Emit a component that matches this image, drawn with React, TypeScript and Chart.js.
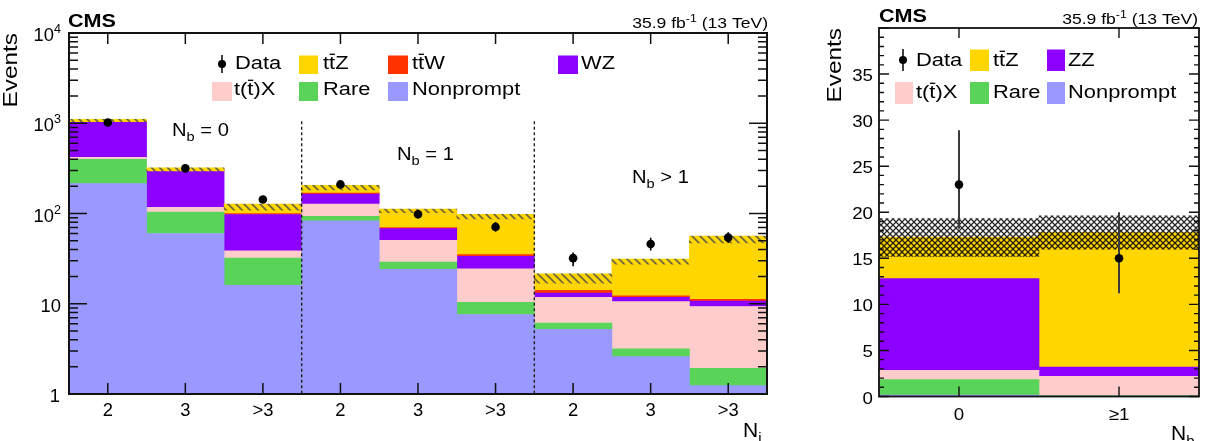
import React, { useEffect, useRef } from 'react';
import { Chart, registerables } from 'chart.js';
Chart.register(...registerables);

// ---------------- Left panel: N_j bins in three N_b regions ----------------
const leftCategories = ['2', '3', '>3', '2', '3', '>3', '2', '3', '>3'];
const leftRegions = ['= 0', '= 1', '> 1'];
const leftNonprompt = [215, 60, 16, 83, 24, 7.6, 5.2, 2.6, 1.24];
const leftRare = [183, 44, 16, 10, 5, 2.8, 0.9, 0.56, 0.68];
const leftTX = [21, 13, 6.5, 34, 21.5, 14, 5.7, 7.4, 7.4];
const leftWZ = [623, 180, 59, 37, 17.5, 9.2, 1.3, 1.2, 1.4];
const leftTTW = [8, 3, 2, 4, 2, 1.5, 1.0, 0.5, 0.5];
const leftTTZ = [24, 9, 16.5, 25, 37, 57.4, 5.1, 17, 40.3];
const leftBandLo = [1042, 297, 109, 182, 102, 87, 16.9, 27.4, 47.1];
const leftBandHi = [1107, 321, 127, 205, 112, 98, 21.5, 31.3, 56.1];
const leftData = [1020, 316, 143, 210, 98, 71, 32, 46, 54];
const leftDataLo = [988, 298, 131, 196, 88, 63, 26, 39, 47];
const leftDataHi = [1052, 334, 156, 225, 109, 80, 37, 54, 62];
const leftYTickExp = [0, 1, 2, 3, 4];

// ---------------- Right panel: N_b bins ----------------
const rightCategories = ['0', '\u22651'];
const rightNonprompt = [0.15, 0.05];
const rightRare = [1.7, 0.05];
const rightTX = [1.0, 2.1];
const rightZZ = [9.95, 1.0];
const rightTTZ = [4.5, 14.6];
const rightBandLo = [15.2, 16.0];
const rightBandHi = [19.3, 19.6];
const rightData = [23, 15];
const rightDataLo = [18.2, 11.2];
const rightDataHi = [28.9, 20.0];
const rightYTicks = [0, 5, 10, 15, 20, 25, 30, 35];

const COL = {
  nonprompt: '#9999ff',
  rare: '#59d459',
  tx: '#ffcccc',
  wz: '#8c00ff',
  ttw: '#ff3300',
  ttz: '#ffd600',
};

const FONT = '"Liberation Sans", Arial, Helvetica, sans-serif';
type Seg = { t: string; size: number; dy?: number; bar?: boolean; bold?: boolean };

function fontOf(s: Seg) {
  return `${s.bold ? 'bold ' : ''}${s.size}px ${FONT}`;
}

function rich(ctx: CanvasRenderingContext2D, segs: Seg[], x: number, y: number, sx = 1.2, align = 'left', color = '#000') {
  ctx.save();
  const ws = segs.map((s) => {
    ctx.font = fontOf(s);
    return ctx.measureText(s.t).width * sx;
  });
  const total = ws.reduce((a, b) => a + b, 0);
  let cx = align === 'right' ? x - total : align === 'center' ? x - total / 2 : x;
  segs.forEach((s, i) => {
    const by = y + (s.dy || 0);
    ctx.save();
    ctx.font = fontOf(s);
    ctx.fillStyle = color;
    ctx.textAlign = 'left';
    ctx.textBaseline = 'alphabetic';
    ctx.translate(cx, by);
    ctx.scale(sx, 1);
    ctx.fillText(s.t, 0, 0);
    ctx.restore();
    if (s.bar) {
      ctx.strokeStyle = color;
      ctx.lineWidth = 1.3;
      ctx.beginPath();
      ctx.moveTo(cx + 0.6, by - s.size * 0.84);
      ctx.lineTo(cx + ws[i] - 0.2, by - s.size * 0.84);
      ctx.stroke();
    }
    cx += ws[i];
  });
  ctx.restore();
}

function rotText(ctx: CanvasRenderingContext2D, t: string, x: number, y: number, size: number, sx: number) {
  ctx.save();
  ctx.translate(x, y);
  ctx.rotate(-Math.PI / 2);
  ctx.scale(sx, 1);
  ctx.font = `${size}px ${FONT}`;
  ctx.fillStyle = '#000';
  ctx.textAlign = 'right';
  ctx.textBaseline = 'alphabetic';
  ctx.fillText(t, 0, 0);
  ctx.restore();
}

const LS = 17.5; // legend font size
const LSX = 1.25;
const TTZ: Seg[] = [{ t: 't', size: LS }, { t: 't', size: LS, bar: true }, { t: 'Z', size: LS }];
const TTW: Seg[] = [{ t: 't', size: LS }, { t: 't', size: LS, bar: true }, { t: 'W', size: LS }];
const TX: Seg[] = [{ t: 't(', size: LS }, { t: 't', size: LS, bar: true }, { t: ')X', size: LS }];
const lbl = (t: string): Seg[] => [{ t, size: LS }];

type LegItem = { kind: 'data' | 'box'; color?: string; x: number; x2?: number; y1: number; y2: number; tx: number; base: number; label: Seg[] };

function drawLegend(ctx: CanvasRenderingContext2D, items: LegItem[]) {
  items.forEach((it) => {
    if (it.kind === 'data') {
      const cy = (it.y1 + it.y2) / 2;
      ctx.save();
      ctx.strokeStyle = '#000';
      ctx.lineWidth = 1.5;
      ctx.beginPath();
      ctx.moveTo(it.x, it.y1);
      ctx.lineTo(it.x, it.y2);
      ctx.stroke();
      ctx.fillStyle = '#000';
      ctx.beginPath();
      ctx.arc(it.x, cy, 4, 0, Math.PI * 2);
      ctx.fill();
      ctx.restore();
    } else {
      ctx.fillStyle = it.color!;
      ctx.fillRect(it.x, it.y1, (it.x2 as number) - it.x, it.y2 - it.y1);
    }
    rich(ctx, it.label, it.tx, it.base, LSX);
  });
}

// stacked histogram as floating bars; the lowest component starts at the axis floor
function buildStack(components: number[][], floor: number) {
  const n = components[0].length;
  const cum = new Array(n).fill(0);
  return components.map((comp, k) =>
    comp.map((v, i) => {
      const s = k === 0 ? floor : cum[i];
      cum[i] += v;
      return [s, cum[i]];
    })
  );
}

function drawErrors(chart: any, idx: number, lo: number[], hi: number[], color: string, width: number) {
  const ctx = chart.ctx;
  const y = chart.scales.y;
  const meta = chart.getDatasetMeta(idx);
  ctx.save();
  ctx.strokeStyle = color;
  ctx.lineWidth = width;
  ctx.beginPath();
  meta.data.forEach((pt: any, i: number) => {
    ctx.moveTo(pt.x, y.getPixelForValue(hi[i]));
    ctx.lineTo(pt.x, y.getPixelForValue(lo[i]));
  });
  ctx.stroke();
  ctx.restore();
}

function hatchPattern() {
  const c = document.createElement('canvas');
  c.width = 8;
  c.height = 8;
  const g = c.getContext('2d')!;
  g.fillStyle = COL.ttz;
  g.fillRect(0, 0, 8, 8);
  g.strokeStyle = '#6b6440';
  g.lineWidth = 1.6;
  g.beginPath();
  g.moveTo(-1, -1);
  g.lineTo(9, 9);
  g.moveTo(7, -1);
  g.lineTo(9, 1);
  g.moveTo(-1, 7);
  g.lineTo(1, 9);
  g.stroke();
  return g.createPattern(c, 'repeat')!;
}

function crossPattern() {
  const c = document.createElement('canvas');
  c.width = 6;
  c.height = 6;
  const g = c.getContext('2d')!;
  g.strokeStyle = 'rgba(0,0,0,0.85)';
  g.lineWidth = 1.3;
  g.beginPath();
  g.moveTo(-1, -1);
  g.lineTo(7, 7);
  g.moveTo(7, -1);
  g.lineTo(-1, 7);
  g.stroke();
  return g.createPattern(c, 'repeat')!;
}

function barSet(label: string, data: any, color: any, order: number) {
  return {
    type: 'bar' as const,
    label,
    data,
    backgroundColor: color,
    borderWidth: 0,
    grouped: false,
    barPercentage: 1,
    categoryPercentage: 1,
    order,
  };
}

function pointSet(data: number[]) {
  return {
    type: 'line' as const,
    label: 'Data',
    data,
    showLine: false,
    pointRadius: 4.3,
    pointBackgroundColor: '#000',
    pointBorderColor: '#000',
    pointBorderWidth: 0,
    borderColor: '#000',
    order: 0,
  };
}

function leftConfig(): any {
  const stacks = buildStack([leftNonprompt, leftRare, leftTX, leftWZ, leftTTW, leftTTZ], 1);
  const names = ['Nonprompt', 'Rare', 't(t)X', 'WZ', 'ttW', 'ttZ'];
  const cols = [COL.nonprompt, COL.rare, COL.tx, COL.wz, COL.ttw, COL.ttz];
  const datasets: any[] = [
    pointSet(leftData),
    barSet('Uncertainty', leftBandLo.map((l, i) => [l, leftBandHi[i]]), hatchPattern(), 1),
    ...stacks.map((s, k) => barSet(names[k], s, cols[k], 2 + k)),
  ];
  const plugin = {
    id: 'leftDecor',
    beforeDatasetDraw(chart: any, args: any) {
      if (args.index === 0) drawErrors(chart, 0, leftDataLo, leftDataHi, '#000', 1.6);
    },
    afterDatasetsDraw(chart: any) {
      const ctx = chart.ctx as CanvasRenderingContext2D;
      const { left, right, top, bottom } = chart.chartArea;
      const xs = chart.scales.x;
      const ys = chart.scales.y;
      // region separators
      ctx.save();
      ctx.strokeStyle = '#222';
      ctx.lineWidth = 1.4;
      ctx.setLineDash([3, 2.5]);
      [2, 5].forEach((i) => {
        const x = (xs.getPixelForValue(i) + xs.getPixelForValue(i + 1)) / 2;
        ctx.beginPath();
        ctx.moveTo(x, ys.getPixelForValue(1050));
        ctx.lineTo(x, bottom);
        ctx.stroke();
      });
      ctx.restore();
      // ticks
      ctx.save();
      ctx.strokeStyle = '#111';
      ctx.lineWidth = 1.5;
      ctx.beginPath();
      leftYTickExp.forEach((e) => {
        const py = ys.getPixelForValue(Math.pow(10, e));
        ctx.moveTo(left, py);
        ctx.lineTo(left + 18, py);
        ctx.moveTo(right, py);
        ctx.lineTo(right - 18, py);
        if (e < 4) {
          for (let m = 2; m <= 9; m++) {
            const pm = ys.getPixelForValue(m * Math.pow(10, e));
            ctx.moveTo(left, pm);
            ctx.lineTo(left + 9, pm);
            ctx.moveTo(right, pm);
            ctx.lineTo(right - 9, pm);
          }
        }
      });
      leftCategories.forEach((_, i) => {
        const px = xs.getPixelForValue(i);
        ctx.moveTo(px, bottom);
        ctx.lineTo(px, bottom - 11);
        ctx.moveTo(px, top);
        ctx.lineTo(px, top + 11);
      });
      ctx.stroke();
      ctx.lineWidth = 2;
      ctx.strokeRect(left, top, right - left, bottom - top);
      ctx.restore();
    },
    afterDraw(chart: any) {
      const ctx = chart.ctx as CanvasRenderingContext2D;
      const { bottom } = chart.chartArea;
      const xs = chart.scales.x;
      const ys = chart.scales.y;
      // y labels
      leftYTickExp.forEach((e) => {
        const py = ys.getPixelForValue(Math.pow(10, e)) + 8;
        if (e === 0) rich(ctx, [{ t: '1', size: 17.5 }], 60, py, 1.05, 'right');
        else if (e === 1) rich(ctx, [{ t: '10', size: 17.5 }], 61, py, 1.05, 'right');
        else rich(ctx, [{ t: '10', size: 17.5 }, { t: String(e), size: 12, dy: -8 }], 61, py, 1.05, 'right');
      });
      leftCategories.forEach((c, i) => {
        rich(ctx, [{ t: c, size: 17.5 }], xs.getPixelForValue(i), bottom + 22, 1.05, 'center');
      });
      // titles
      rich(ctx, [{ t: 'CMS', size: 18, bold: true }], 68, 27, 1.2);
      rich(ctx, [{ t: '35.9 fb', size: 15 }, { t: '-1', size: 10.5, dy: -6 }, { t: ' (13 TeV)', size: 15 }], 768, 28, 1.17, 'right');
      rotText(ctx, 'Events', 16.5, 33, 20, 1.22);
      rich(ctx, [{ t: 'N', size: 21 }, { t: 'j', size: 15, dy: 6 }], 743, 437, 1.0);
      const regPos = [
        [172, 136],
        [397, 160],
        [632, 183],
      ];
      leftRegions.forEach((r, k) => {
        rich(ctx, [{ t: 'N', size: 18 }, { t: 'b', size: 13, dy: 5 }, { t: ' ' + r, size: 18 }], regPos[k][0], regPos[k][1], 1.12);
      });
      drawLegend(ctx, [
        { kind: 'data', x: 222, y1: 55, y2: 73, tx: 235, base: 69, label: lbl('Data') },
        { kind: 'box', color: COL.ttz, x: 299, x2: 318, y1: 55.5, y2: 74, tx: 323, base: 69, label: TTZ },
        { kind: 'box', color: COL.ttw, x: 388, x2: 408, y1: 55.5, y2: 74, tx: 412, base: 69, label: TTW },
        { kind: 'box', color: COL.wz, x: 558, x2: 578, y1: 55.5, y2: 74, tx: 581, base: 69, label: lbl('WZ') },
        { kind: 'box', color: COL.tx, x: 212, x2: 232, y1: 82, y2: 101, tx: 234, base: 95, label: TX },
        { kind: 'box', color: COL.rare, x: 299, x2: 318, y1: 82, y2: 101, tx: 323, base: 95, label: lbl('Rare') },
        { kind: 'box', color: COL.nonprompt, x: 388, x2: 408, y1: 82, y2: 101, tx: 412, base: 95, label: lbl('Nonprompt') },
      ]);
    },
  };
  return {
    data: { labels: leftCategories, datasets },
    options: {
      responsive: false,
      animation: false,
      devicePixelRatio: 1,
      events: [],
      layout: { padding: { left: 69, right: 33, top: 33, bottom: 47 } },
      plugins: { legend: { display: false }, tooltip: { enabled: false } },
      scales: {
        x: { type: 'category', display: false, offset: true },
        y: { type: 'logarithmic', display: false, min: 1, max: 10000 },
      },
    },
    plugins: [plugin],
  };
}

function rightConfig(): any {
  const stacks = buildStack([rightNonprompt, rightRare, rightTX, rightZZ, rightTTZ], 0);
  const names = ['Nonprompt', 'Rare', 't(t)X', 'ZZ', 'ttZ'];
  const cols = [COL.nonprompt, COL.rare, COL.tx, COL.wz, COL.ttz];
  const datasets: any[] = [
    pointSet(rightData),
    barSet('Uncertainty', rightBandLo.map((l, i) => [l, rightBandHi[i]]), crossPattern(), 1),
    ...stacks.map((s, k) => barSet(names[k], s, cols[k], 2 + k)),
  ];
  const plugin = {
    id: 'rightDecor',
    beforeDatasetDraw(chart: any, args: any) {
      if (args.index === 0) drawErrors(chart, 0, rightDataLo, rightDataHi, '#3a3a3a', 2);
    },
    afterDatasetsDraw(chart: any) {
      const ctx = chart.ctx as CanvasRenderingContext2D;
      const { left, right, top, bottom } = chart.chartArea;
      const xs = chart.scales.x;
      const ys = chart.scales.y;
      ctx.save();
      ctx.strokeStyle = '#111';
      ctx.lineWidth = 1.4;
      ctx.beginPath();
      for (let v = 0; v <= 40; v++) {
        const py = ys.getPixelForValue(v);
        const len = v % 5 === 0 ? 10 : 5;
        ctx.moveTo(left, py);
        ctx.lineTo(left + len, py);
        ctx.moveTo(right, py);
        ctx.lineTo(right - len, py);
      }
      rightCategories.forEach((_, i) => {
        const px = xs.getPixelForValue(i);
        ctx.moveTo(px, bottom);
        ctx.lineTo(px, bottom - 10);
        ctx.moveTo(px, top);
        ctx.lineTo(px, top + 10);
      });
      ctx.stroke();
      ctx.lineWidth = 1.8;
      ctx.strokeRect(left, top, right - left, bottom - top);
      ctx.restore();
    },
    afterDraw(chart: any) {
      const ctx = chart.ctx as CanvasRenderingContext2D;
      const { bottom } = chart.chartArea;
      const xs = chart.scales.x;
      const ys = chart.scales.y;
      rightYTicks.forEach((v) => {
        rich(ctx, [{ t: String(v), size: 17 }], 73, ys.getPixelForValue(v) + 7, 1.1, 'right');
      });
      rightCategories.forEach((c, i) => {
        rich(ctx, [{ t: c, size: 17 }], xs.getPixelForValue(i), bottom + 23.5, 1.1, 'center');
      });
      rich(ctx, [{ t: 'CMS', size: 18, bold: true }], 79, 22, 1.2);
      rich(ctx, [{ t: '35.9 fb', size: 15 }, { t: '-1', size: 10.5, dy: -6 }, { t: ' (13 TeV)', size: 15 }], 398, 24, 1.17, 'right');
      rotText(ctx, 'Events', 41, 28, 20, 1.22);
      rich(ctx, [{ t: 'N', size: 21 }, { t: 'b', size: 15, dy: 6 }], 371, 440, 1.0);
      drawLegend(ctx, [
        { kind: 'data', x: 103, y1: 49, y2: 71, tx: 116, base: 66, label: lbl('Data') },
        { kind: 'box', color: COL.ttz, x: 170, x2: 189, y1: 49.5, y2: 71, tx: 193, base: 66, label: TTZ },
        { kind: 'box', color: COL.wz, x: 247, x2: 265, y1: 49.5, y2: 71, tx: 268, base: 66, label: lbl('ZZ') },
        { kind: 'box', color: COL.tx, x: 95, x2: 113, y1: 82, y2: 104, tx: 116, base: 98, label: TX },
        { kind: 'box', color: COL.rare, x: 170, x2: 189, y1: 82, y2: 104, tx: 193, base: 98, label: lbl('Rare') },
        { kind: 'box', color: COL.nonprompt, x: 247, x2: 265, y1: 82, y2: 104, tx: 268, base: 98, label: lbl('Nonprompt') },
      ]);
    },
  };
  return {
    data: { labels: rightCategories, datasets },
    options: {
      responsive: false,
      animation: false,
      devicePixelRatio: 1,
      events: [],
      layout: { padding: { left: 79, right: 13, top: 28, bottom: 44.5 } },
      plugins: { legend: { display: false }, tooltip: { enabled: false } },
      scales: {
        x: { type: 'category', display: false, offset: true },
        y: { type: 'linear', display: false, min: 0, max: 40 },
      },
    },
    plugins: [plugin],
  };
}

export default function App() {
  const lRef = useRef<HTMLCanvasElement>(null);
  const rRef = useRef<HTMLCanvasElement>(null);
  useEffect(() => {
    const l = new Chart(lRef.current as HTMLCanvasElement, leftConfig());
    const r = new Chart(rRef.current as HTMLCanvasElement, rightConfig());
    return () => {
      l.destroy();
      r.destroy();
    };
  }, []);
  return (
    <div style={{ position: 'absolute', left: 0, top: 0, width: 1212, height: 441, background: '#fff', overflow: 'hidden' }}>
      <canvas ref={lRef} width={800} height={441} style={{ position: 'absolute', left: 0, top: 0, width: 800, height: 441 }} />
      <canvas ref={rRef} width={412} height={441} style={{ position: 'absolute', left: 800, top: 0, width: 412, height: 441 }} />
    </div>
  );
}
